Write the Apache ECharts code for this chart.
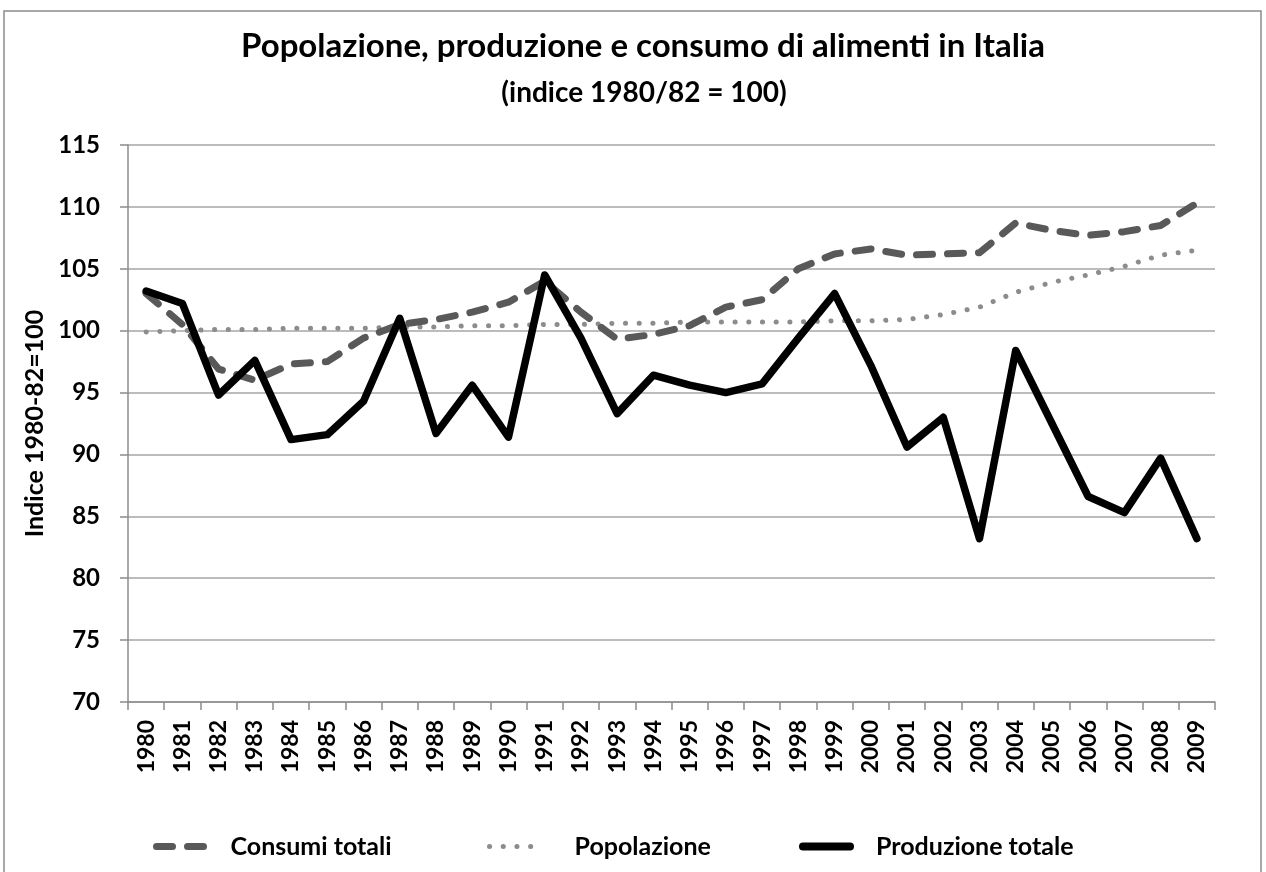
<!DOCTYPE html>
<html>
<head>
<meta charset="utf-8">
<script src="https://cdn.jsdelivr.net/npm/echarts@6/dist/echarts.min.js"></script>
<style>
  html, body { margin: 0; padding: 0; background: #fff; }
  #chart { width: 1266px; height: 872px; }
</style>
</head>
<body>
<div id="chart"></div>
<script>
// dati
var years = ['1980','1981','1982','1983','1984','1985','1986','1987','1988','1989',
  '1990','1991','1992','1993','1994','1995','1996','1997','1998','1999',
  '2000','2001','2002','2003','2004','2005','2006','2007','2008','2009'];

var consumiTotali = [103.0, 100.5, 96.9, 96.0, 97.3, 97.5, 99.4, 100.5, 100.9, 101.5,
  102.3, 104.0, 101.5, 99.3, 99.7, 100.4, 101.9, 102.5, 105.0, 106.2,
  106.6, 106.1, 106.2, 106.3, 108.7, 108.1, 107.7, 108.0, 108.5, 110.3];

var popolazione = [99.9, 100.0, 100.1, 100.1, 100.2, 100.2, 100.2, 100.3, 100.3, 100.4,
  100.4, 100.5, 100.5, 100.6, 100.6, 100.7, 100.7, 100.7, 100.7, 100.8,
  100.8, 100.9, 101.3, 101.9, 103.1, 103.9, 104.5, 105.2, 106.1, 106.5];

var produzioneTotale = [103.2, 102.2, 94.8, 97.6, 91.2, 91.6, 94.3, 101.0, 91.7, 95.6,
  91.4, 104.5, 99.4, 93.3, 96.4, 95.6, 95.0, 95.7, 99.4, 103.0,
  97.2, 90.6, 93.0, 83.2, 98.4, 92.5, 86.6, 85.3, 89.7, 83.2];

var yMin = 70, yMax = 115, yStep = 5;

var fontFam = 'Lato, "Open Sans", sans-serif';
var chart = echarts.init(document.getElementById('chart'));

// una legenda per voce, come nel grafico originale (spaziature irregolari)
function legendBox(name, left, iconW, gap, lineW) {
  return {
    data: [name],
    left: left,
    top: 834,
    padding: 0,
    itemWidth: iconW,
    itemHeight: 14,
    selectedMode: false,
    itemStyle: { opacity: 0 },
    lineStyle: { width: lineW, cap: 'round' },
    textStyle: { fontFamily: fontFam, fontWeight: 'bold', fontSize: 25, color: '#000', padding: [0, 0, 0, gap] }
  };
}

var option = {
  animation: false,
  backgroundColor: '#fff',
  title: [{
    text: 'Popolazione, produzione e consumo di alimenti in Italia',
    left: 643,
    textAlign: 'center',
    top: 30,
    padding: 0,
    textStyle: { fontFamily: fontFam, fontWeight: 'bold', fontSize: 33, color: '#000' }
  }, {
    text: '(indice 1980/82 = 100)',
    left: 644,
    textAlign: 'center',
    top: 79,
    padding: 0,
    textStyle: { fontFamily: fontFam, fontWeight: 'bold', fontSize: 28, color: '#000' }
  }],
  graphic: [{
    type: 'rect',
    shape: { x: 4, y: 11, width: 1257, height: 900 },
    style: { fill: 'none', stroke: '#8c8c8c', lineWidth: 1.5 },
    silent: true
  }],
  legend: [
    legendBox('Consumi totali', 153, 48, 21, 7),
    legendBox('Popolazione', 487, 46, 34, 5),
    legendBox('Produzione totale', 799, 47, 21, 8)
  ],
  grid: { left: 128, right: 51, top: 145, bottom: 170 },
  xAxis: {
    type: 'category',
    data: years,
    boundaryGap: true,
    axisLine: { lineStyle: { color: '#8c8c8c', width: 1.5 } },
    axisTick: { show: true, length: 8, lineStyle: { color: '#8c8c8c', width: 1.5 } },
    axisLabel: {
      interval: 0,
      rotate: 90,
      margin: 18,
      fontFamily: fontFam,
      fontWeight: 'bold',
      fontSize: 23,
      color: '#000'
    }
  },
  yAxis: {
    type: 'value',
    min: yMin,
    max: yMax,
    interval: yStep,
    name: 'Indice 1980-82=100',
    nameLocation: 'middle',
    nameGap: 81,
    nameRotate: 90,
    nameTextStyle: { fontFamily: fontFam, fontWeight: 'bold', fontSize: 25, color: '#000' },
    axisLine: { show: true, lineStyle: { color: '#8c8c8c', width: 1.5 } },
    axisTick: { show: true, length: 8, lineStyle: { color: '#8c8c8c', width: 1.5 } },
    splitLine: { lineStyle: { color: '#a6a6a6', width: 1.5 } },
    axisLabel: { margin: 28, fontFamily: fontFam, fontWeight: 'bold', fontSize: 24, color: '#000' }
  },
  series: [{
    name: 'Consumi totali',
    type: 'line',
    data: consumiTotali,
    symbol: 'none',
    z: 3,
    lineStyle: { color: '#595959', width: 7, type: [16, 15], cap: 'round', join: 'round' },
    itemStyle: { color: '#595959' }
  }, {
    name: 'Popolazione',
    type: 'line',
    data: popolazione,
    symbol: 'none',
    z: 2,
    lineStyle: { color: '#8c8c8c', width: 5, type: [0.1, 13.6], cap: 'round', join: 'round' },
    itemStyle: { color: '#8c8c8c' }
  }, {
    name: 'Produzione totale',
    type: 'line',
    data: produzioneTotale,
    symbol: 'none',
    z: 4,
    lineStyle: { color: '#000', width: 7.5, join: 'round', cap: 'round' },
    itemStyle: { color: '#000' }
  }]
};

chart.setOption(option);
</script>
</body>
</html>
